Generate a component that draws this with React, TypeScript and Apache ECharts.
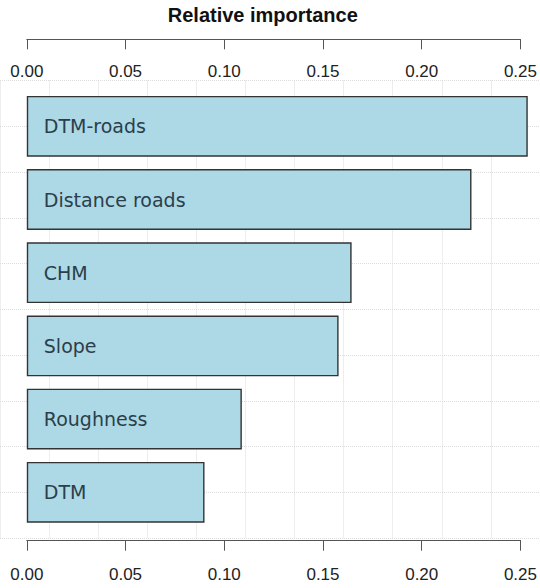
import React, { useEffect, useRef } from "react";
import * as echarts from "echarts";

const categories = ["DTM-roads", "Distance roads", "CHM", "Slope", "Roughness", "DTM"];
const importance = [0.2537, 0.2252, 0.1645, 0.1579, 0.1089, 0.09];
const tickValues = [0, 0.05, 0.1, 0.15, 0.2, 0.25];
const titleText = "Relative importance";

export default function App() {
  const ref = useRef<HTMLDivElement>(null);
  useEffect(() => {
    if (!ref.current) return;
    const chart = echarts.init(ref.current, null, { renderer: "svg" });
    const axisFont = {
      fontSize: 17,
      fontFamily: "Liberation Sans, Arial, sans-serif",
      color: "#222",
      formatter: (v: number) => v.toFixed(2),
    };
    const lineStyle = { color: "#555", width: 1 };
    const bgSplit = { show: true, lineStyle: { color: "#dcdcdc", type: "dotted" as const, width: 1 } };
    chart.setOption({
      animation: false,
      backgroundColor: "#fff",
      title: {
        text: titleText,
        left: 262.8,
        textAlign: "center",
        top: 5,
        padding: 0,
        textStyle: {
          fontSize: 20,
          fontWeight: "bold",
          fontFamily: "Liberation Sans, Arial, sans-serif",
          color: "#111",
        },
      },
      grid: [
        { left: 26.8, right: 18.3, top: 89.7, bottom: 588 - 528.9, containLabel: false },
        { left: -26.3, top: 80.6, width: 589.6, height: 457.5, containLabel: false },
      ],
      xAxis: [
        {
          type: "value",
          gridIndex: 0,
          position: "top",
          min: tickValues[0],
          max: tickValues[tickValues.length - 1],
          interval: 0.05,
          offset: 50.4,
          axisLine: { show: true, lineStyle },
          axisTick: { show: true, inside: true, length: 10, lineStyle },
          axisLabel: { ...axisFont, inside: true, margin: 23.5 },
          splitLine: { show: false },
        },
        {
          type: "value",
          gridIndex: 0,
          position: "bottom",
          min: tickValues[0],
          max: tickValues[tickValues.length - 1],
          interval: 0.05,
          offset: 11.1,
          axisLine: { show: true, lineStyle },
          axisTick: { show: true, inside: false, length: 10.7, lineStyle },
          axisLabel: { ...axisFont, margin: 25.5 },
          splitLine: { show: false },
        },
        {
          type: "value",
          gridIndex: 1,
          min: 0,
          max: 11,
          interval: 1,
          axisLine: { show: false },
          axisTick: { show: false },
          axisLabel: { show: false },
          splitLine: bgSplit,
        },
      ],
      yAxis: [
        {
          type: "category",
          gridIndex: 0,
          data: categories,
          inverse: true,
          axisLine: { show: false },
          axisTick: { show: false },
          axisLabel: { show: false },
          splitLine: { show: false },
        },
        {
          type: "value",
          gridIndex: 1,
          min: 0,
          max: 10,
          interval: 1,
          axisLine: { show: false },
          axisTick: { show: false },
          axisLabel: { show: false },
          splitLine: bgSplit,
        },
      ],
      series: [
        {
          type: "bar",
          xAxisIndex: 0,
          yAxisIndex: 0,
          data: importance,
          clip: false,
          barCategoryGap: "17%",
          itemStyle: { color: "#ADD8E6", borderColor: "#333", borderWidth: 1.4 },
          label: {
            show: true,
            position: "insideLeft",
            distance: 17,
            formatter: "{b}",
            fontSize: 19,
            fontFamily: "DejaVu Sans, Verdana, sans-serif",
            color: "#2a3f4a",
          },
          z: 3,
        },
        {
          type: "line",
          xAxisIndex: 2,
          yAxisIndex: 1,
          data: [],
          silent: true,
        },
      ],
    });
    return () => chart.dispose();
  }, []);
  return (
    <div
      ref={ref}
      style={{ position: "absolute", left: 0, top: 0, width: 540, height: 588 }}
    />
  );
}
